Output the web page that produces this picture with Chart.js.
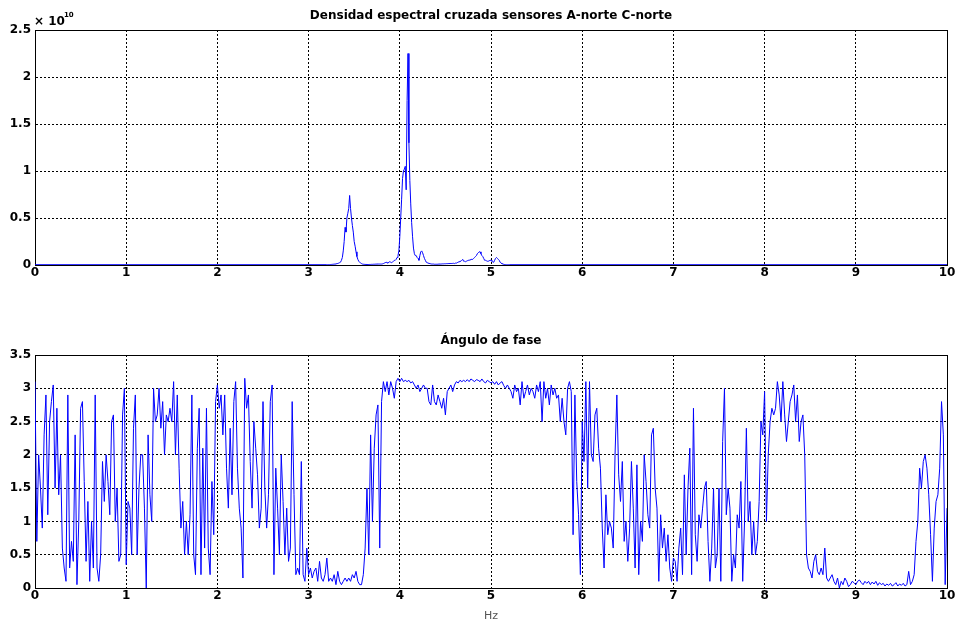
<!DOCTYPE html>
<html>
<head>
<meta charset="utf-8">
<script src="https://cdn.jsdelivr.net/npm/chart.js@4.4.0/dist/chart.umd.min.js"></script>
<style>
  html, body { margin: 0; padding: 0; background: #fff; }
  #wrap { position: relative; width: 959px; height: 625px; }
  canvas { position: absolute; left: 0; }
</style>
</head>
<body>
<div id="wrap">
  <canvas id="spd" width="959" height="300" style="top:0"></canvas>
  <canvas id="phase" width="959" height="300" style="top:325px"></canvas>
</div>
<script>
// titles and tick labels
const topTitle = "Densidad espectral cruzada sensores A-norte C-norte";
const bottomTitle = "Ángulo de fase";
const xLabel = "Hz";
const xTickLabels = ["0", "1", "2", "3", "4", "5", "6", "7", "8", "9", "10"];
const yTickLabelsTop = ["0", "0.5", "1", "1.5", "2", "2.5"];
const yTickLabelsBottom = ["0", "0.5", "1", "1.5", "2", "2.5", "3", "3.5"];

// cross spectral density (units of 1e10), 3.20 Hz .. 5.20 Hz every 0.01 Hz
const spdStart = 3.2;
const spdStep = 0.01;
const spdFloor = 0.003;
const spdValues = [
  0.003, 0.003, 0.004, 0.004, 0.005, 0.006, 0.007, 0.008, 0.009, 0.01,
  0.012, 0.014, 0.016, 0.02, 0.025, 0.03, 0.05, 0.08, 0.15, 0.25,
  0.4, 0.35, 0.5, 0.55, 0.6, 0.74, 0.6, 0.5, 0.42, 0.35,
  0.25, 0.2, 0.14, 0.09, 0.06, 0.04, 0.03, 0.02, 0.015, 0.01,
  0.008, 0.007, 0.006, 0.006, 0.005, 0.005, 0.005, 0.006, 0.006, 0.007,
  0.007, 0.008, 0.008, 0.009, 0.009, 0.01, 0.01, 0.01, 0.01, 0.01,
  0.01, 0.012, 0.015, 0.02, 0.025, 0.03, 0.025, 0.02, 0.03, 0.035,
  0.03, 0.025, 0.03, 0.04, 0.05, 0.05, 0.06, 0.08, 0.1, 0.15,
  0.3, 0.5, 0.7, 0.92, 1.0, 1.02, 1.05, 0.8, 1.75, 2.25,
  1.3, 0.9, 0.65, 0.45, 0.3, 0.18, 0.12, 0.1, 0.1, 0.08,
  0.07, 0.05, 0.1, 0.14, 0.15, 0.13, 0.1, 0.07, 0.05, 0.03,
  0.025, 0.02, 0.018, 0.015, 0.012, 0.01, 0.01, 0.01, 0.008, 0.008,
  0.008, 0.008, 0.009, 0.01, 0.01, 0.01, 0.011, 0.012, 0.012, 0.013,
  0.013, 0.014, 0.014, 0.015, 0.015, 0.015, 0.016, 0.016, 0.017, 0.018,
  0.015, 0.02, 0.02, 0.025, 0.03, 0.035, 0.04, 0.04, 0.05, 0.06,
  0.04, 0.04, 0.035, 0.04, 0.045, 0.05, 0.05, 0.055, 0.06, 0.06,
  0.06, 0.07, 0.08, 0.09, 0.1, 0.12, 0.13, 0.14, 0.14, 0.12,
  0.1, 0.09, 0.07, 0.05, 0.05, 0.045, 0.04, 0.04, 0.045, 0.05,
  0.05, 0.04, 0.03, 0.03, 0.05, 0.07, 0.08, 0.07, 0.06, 0.05,
  0.03, 0.02, 0.015, 0.01, 0.007, 0.005, 0.004, 0.003, 0.003, 0.003,
  0.003
];

// phase angle (rad), 0 .. 10 Hz every 0.02 Hz
const phaseStep = 0.02;
const phaseValues = [
  3.1, 0.7, 2.0, 1.5, 0.9, 2.3, 2.9, 1.1, 2.5, 2.8,
  3.05, 1.5, 2.7, 1.4, 2.0, 0.6, 0.3, 0.1, 2.9, 0.3,
  0.7, 0.4, 2.3, 0.05, 1.0, 2.7, 2.8, 1.6, 0.4, 1.3,
  0.1, 1.0, 0.3, 2.9, 0.3, 0.1, 0.5, 1.9, 1.3, 2.0,
  1.6, 1.1, 2.5, 2.6, 1.0, 1.5, 0.4, 0.5, 2.6, 3.0,
  0.35, 1.3, 1.2, 0.5, 2.4, 2.9, 0.5, 1.5, 2.0, 2.0,
  1.2, 0.0, 2.3, 1.4, 1.0, 3.0, 2.5, 2.6, 3.0, 2.4,
  2.8, 2.0, 2.6, 2.5, 2.7, 2.5, 3.1, 2.0, 2.9, 1.8,
  0.9, 1.3, 0.5, 1.0, 0.5, 1.1, 2.9, 0.5, 0.2, 2.1,
  2.7, 0.2, 2.1, 0.6, 2.7, 0.6, 0.2, 1.6, 0.8, 2.8,
  3.05, 2.7, 2.9, 2.3, 2.9, 1.8, 1.2, 2.4, 1.4, 2.8,
  3.1, 1.8, 1.2, 0.9, 0.15, 3.15, 2.7, 2.9, 1.9, 1.2,
  2.5, 2.1, 1.7, 0.9, 1.2, 2.8, 1.5, 0.9, 1.4, 2.8,
  3.05, 0.2, 1.8, 1.2, 0.5, 2.0, 1.3, 0.5, 1.2, 0.4,
  0.6, 2.8, 1.4, 0.2, 0.3, 0.2, 1.9, 0.2, 0.1, 0.6,
  0.2, 0.3, 0.15, 0.25, 0.3, 0.1, 0.4, 0.15, 0.1, 0.2,
  0.45, 0.1, 0.15, 0.1, 0.2, 0.05, 0.25, 0.1, 0.05, 0.1,
  0.15, 0.1, 0.15, 0.1, 0.2, 0.15, 0.25, 0.1, 0.05, 0.05,
  0.2, 0.6, 1.5, 0.5, 2.3, 1.0, 2.1, 2.6, 2.75, 0.6,
  2.8, 3.1, 2.95, 3.1, 2.9, 3.1, 3.0, 2.85, 3.1, 3.15,
  3.1, 3.15, 3.1, 3.12, 3.1, 3.12, 3.08, 3.1, 3.05, 3.0,
  3.05, 2.95, 3.0, 3.05, 3.0, 3.0, 2.8, 2.75, 3.05, 2.8,
  2.75, 2.9, 2.8, 2.7, 2.85, 2.6, 2.95, 3.0, 3.05, 2.95,
  3.05, 3.1, 3.08, 3.12, 3.1, 3.12, 3.1, 3.13, 3.1, 3.14,
  3.12, 3.1, 3.13, 3.12, 3.1, 3.14, 3.1, 3.08, 3.12, 3.1,
  3.08, 3.1, 3.06, 3.1, 3.05, 3.08, 3.1, 3.04, 3.0, 3.05,
  3.0, 2.95, 2.85, 3.05, 2.95, 3.0, 2.75, 3.1, 2.85, 2.95,
  3.05, 2.9, 3.0, 2.95, 2.85, 3.05, 2.95, 3.1, 2.5, 3.1,
  2.85, 3.0, 2.75, 3.05, 2.9, 3.0, 2.85, 2.9, 2.5, 2.85,
  2.5, 2.3, 3.0, 3.1, 2.95, 0.8, 2.9, 1.6, 1.1, 0.2,
  2.5, 1.9, 3.1, 1.5, 3.1, 2.0, 1.9, 2.6, 2.7, 2.1,
  1.8, 0.9, 0.3, 1.4, 0.8, 1.0, 0.9, 0.6, 2.0, 2.9,
  1.7, 1.3, 1.9, 0.7, 1.0, 0.4, 0.9, 1.9, 1.2, 0.3,
  1.85, 0.2, 1.0, 0.7, 2.0, 1.6, 1.1, 0.9, 2.3, 2.4,
  1.5, 1.2, 0.1, 1.1, 0.6, 0.9, 0.4, 0.8, 0.3, 0.1,
  0.45, 0.4, 0.1, 0.6, 0.9, 0.2, 1.7, 0.5, 1.5, 2.1,
  0.2, 2.7, 0.8, 0.4, 1.1, 0.9, 1.2, 1.5, 1.6, 0.7,
  0.1, 0.6, 1.5, 0.3, 0.5, 1.5, 0.1, 2.2, 3.0, 1.1,
  1.5, 1.2, 0.1, 0.5, 0.3, 1.1, 0.9, 1.6, 0.1, 1.0,
  2.4, 1.0, 1.3, 0.5, 1.0, 0.5, 0.7, 1.3, 2.5, 2.3,
  2.95, 1.0, 2.0, 2.5, 2.7, 2.6, 2.7, 3.1, 2.9, 2.5,
  3.1, 2.6, 2.2, 2.5, 2.8, 2.9, 3.05, 2.5, 2.9, 2.2,
  2.5, 2.6, 2.0, 0.5, 0.3, 0.25, 0.15, 0.4, 0.5, 0.25,
  0.2, 0.3, 0.2, 0.6, 0.15, 0.1, 0.15, 0.2, 0.1, 0.05,
  0.15, 0.0, 0.1, 0.05, 0.15, 0.1, 0.02, 0.05, 0.1, 0.08,
  0.05, 0.1, 0.12, 0.08, 0.05, 0.1, 0.07, 0.1, 0.05, 0.09,
  0.06, 0.1, 0.04, 0.08, 0.05, 0.07, 0.03, 0.06, 0.04, 0.07,
  0.03, 0.05, 0.08, 0.03, 0.06, 0.04, 0.07, 0.03, 0.05, 0.25,
  0.05, 0.1, 0.2, 0.7, 1.0, 1.8, 1.5, 1.9, 2.0, 1.8,
  1.4, 0.8, 0.1, 0.9, 1.3, 1.4, 1.8, 2.8, 2.3, 0.05,
  1.2
];

const FONT = "'DejaVu Sans', Verdana, sans-serif";
const BLUE = "#0000ff";

const spdPoints = [{ x: 0, y: spdFloor }]
  .concat(spdValues.map((v, i) => ({ x: +(spdStart + i * spdStep).toFixed(2), y: v })))
  .concat([{ x: 10, y: spdFloor }]);
const phasePoints = phaseValues.map((v, i) => ({ x: +(i * phaseStep).toFixed(2), y: v }));

// box, title and extra texts, MATLAB style
function decor(title, extra) {
  return {
    id: "decor",
    beforeDatasetsDraw(chart) {
      const { ctx, chartArea: a } = chart;
      ctx.save();
      ctx.strokeStyle = "#000";
      ctx.lineWidth = 1;
      ctx.strokeRect(a.left + 0.5, a.top + 0.5, a.right - a.left, a.bottom - a.top);
      ctx.restore();
    },
    afterDraw(chart) {
      const { ctx, chartArea: a } = chart;
      ctx.save();
      ctx.fillStyle = "#000";
      ctx.font = "bold 12px " + FONT;
      ctx.textAlign = "center";
      ctx.textBaseline = "alphabetic";
      ctx.fillText(title, (a.left + a.right) / 2, a.top - 11);
      if (extra) extra(ctx, a);
      ctx.restore();
    }
  };
}

function axes(yMax, yLabels, xHeight) {
  const tickFont = { family: FONT, size: 12, weight: "bold" };
  return {
    x: {
      type: "linear", min: 0, max: 10,
      afterFit: s => { s.height = xHeight; },
      ticks: { stepSize: 1, padding: 1, color: "#000", font: tickFont,
               callback: v => xTickLabels[Math.round(v)], maxRotation: 0 },
      grid: { color: "#000", drawTicks: false },
      border: { color: "#000", dash: [2, 2] }
    },
    y: {
      min: 0, max: yMax,
      afterFit: s => { s.width = 35; },
      ticks: { stepSize: 0.5, padding: 4, color: "#000", font: tickFont,
               callback: v => yLabels[Math.round(v * 2)] },
      grid: { color: "#000", drawTicks: false },
      border: { color: "#000", dash: [2, 2] }
    }
  };
}

const common = {
  responsive: false,
  animation: false,
  events: [],
  plugins: { legend: { display: false }, tooltip: { enabled: false } },
  elements: { point: { radius: 0 }, line: { borderWidth: 1, tension: 0 } }
};

new Chart(document.getElementById("spd"), {
  type: "line",
  data: { datasets: [{ data: spdPoints, borderColor: BLUE, fill: false }] },
  options: Object.assign({}, common, {
    layout: { padding: { top: 30, right: 12, left: 0, bottom: 0 } },
    scales: axes(2.5, yTickLabelsTop, 35)
  }),
  plugins: [decor(topTitle, (ctx, a) => {
    ctx.textAlign = "left";
    ctx.font = "bold 12px " + FONT;
    ctx.fillText("× 10", a.left - 1, a.top - 5);
    ctx.font = "bold 7px " + FONT;
    ctx.fillText("10", a.left + 29, a.top - 13);
  })]
});

new Chart(document.getElementById("phase"), {
  type: "line",
  data: { datasets: [{ data: phasePoints, borderColor: BLUE, fill: false }] },
  options: Object.assign({}, common, {
    layout: { padding: { top: 30, right: 12, left: 0, bottom: 0 } },
    scales: axes(3.5, yTickLabelsBottom, 37)
  }),
  plugins: [decor(bottomTitle, (ctx, a) => {
    ctx.textAlign = "center";
    ctx.fillStyle = "#555";
    ctx.font = "11px " + FONT;
    ctx.fillText(xLabel, (a.left + a.right) / 2, a.bottom + 31);
  })]
});
</script>
</body>
</html>
